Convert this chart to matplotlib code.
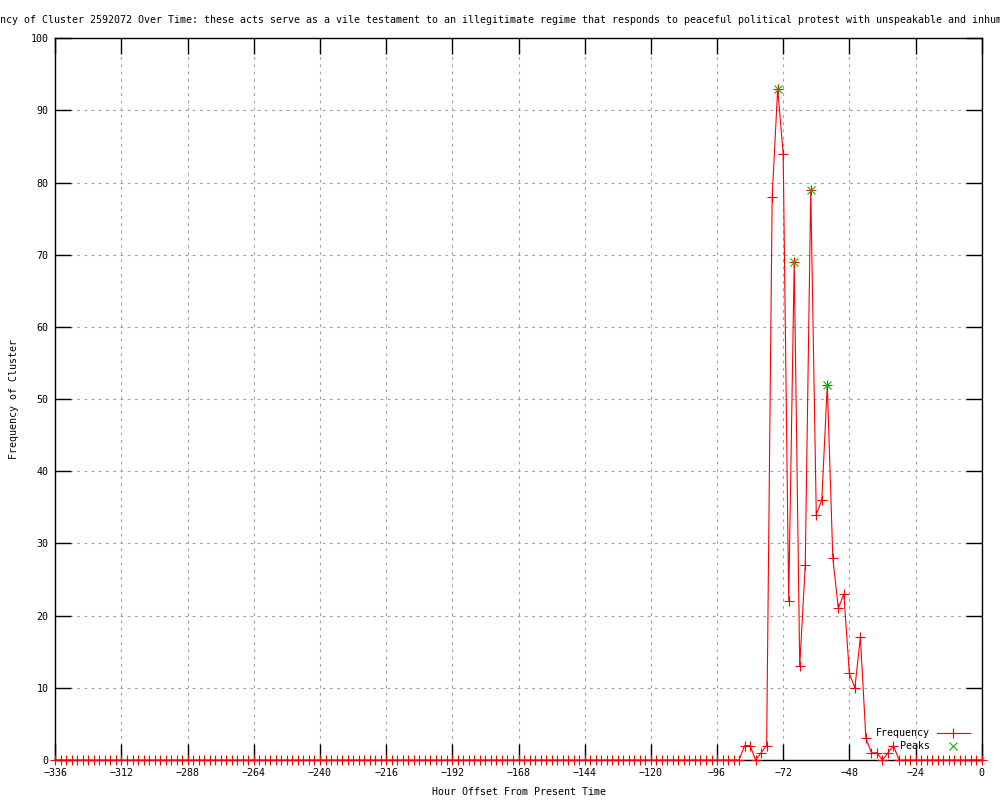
import numpy as np
import matplotlib
matplotlib.use("Agg")
import matplotlib.pyplot as plt

# ------------------ DATA ------------------
hours = np.arange(-336, 1, 2)   # one sample every 2 hours

frequency = ([0] * 125
             + [2, 2, 0, 1, 2, 78, 93, 84, 22, 69, 13, 27, 79, 34, 36,
                52, 28, 21, 23, 12, 10, 17, 3, 1, 1, 0, 1, 2, 0]
             + [0] * 15)

peak_hours = [-74, -68, -62, -56]
peak_values = [93, 69, 79, 52]

x_ticks = list(range(-336, 1, 24))
y_ticks = list(range(0, 101, 10))

TITLE = ("Frequency of Cluster 2592072 Over Time: these acts serve as a vile "
         "testament to an illegitimate regime that responds to peaceful political "
         "protest with unspeakable and inhumane violence")
# ------------------------------------------

FS = 7.2
plt.rcParams['font.family'] = ['DejaVu Sans Mono']

fig = plt.figure(figsize=(10, 8), dpi=100)
ax = fig.add_axes([0.0553, 0.05, 0.9264, 0.9021])

ax.plot(hours, frequency, color='red', lw=0.8, marker='+', ms=6.5, mew=0.8,
        label='Frequency', clip_on=False, zorder=3)
ax.plot(peak_hours, peak_values, ls='none', color='#00c000', marker='x', ms=5.5,
        mew=0.8, label='Peaks', clip_on=False, zorder=4)

ax.set_xlim(-336, 0)
ax.set_ylim(0, 100)
ax.set_xticks(x_ticks)
ax.set_yticks(y_ticks)
ax.tick_params(direction='in', length=11.5, width=1.0, top=True, right=True,
               labelsize=FS, pad=5, colors='black')
ax.tick_params(axis='x', pad=6)

ax.grid(True, color='#a0a0a0', lw=0.8, linestyle=(0, (2.5, 4)))
ax.set_axisbelow(True)
for s in ax.spines.values():
    s.set_linewidth(1.0)

ax.set_title(TITLE, fontsize=FS, pad=11)
ax.set_xlabel('Hour Offset From Present Time', fontsize=FS, labelpad=6)
ax.set_ylabel('Frequency of Cluster', fontsize=FS, labelpad=8)

ax.legend(loc='lower right', bbox_to_anchor=(0.987, 0.012), frameon=False,
          markerfirst=False, fontsize=FS, handlelength=3.3, handletextpad=0.7,
          borderpad=0, labelspacing=0.3, borderaxespad=0)

fig.savefig('out.png', dpi=100)
